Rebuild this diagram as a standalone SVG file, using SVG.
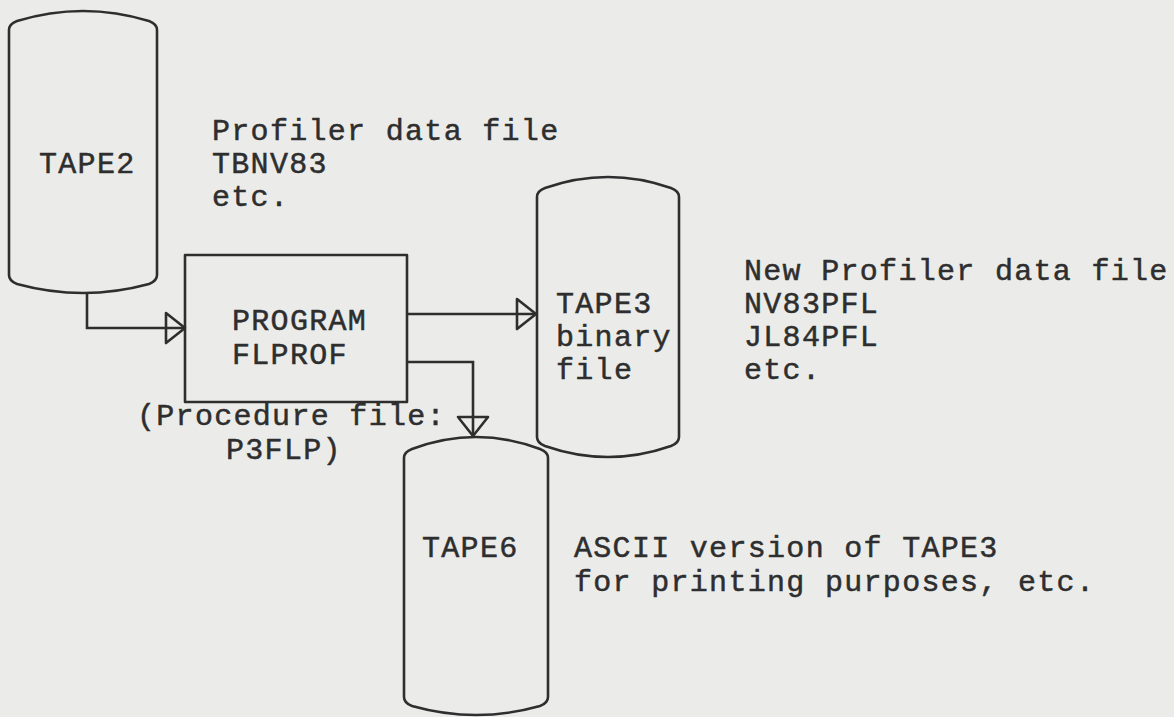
<svg xmlns="http://www.w3.org/2000/svg" width="1174" height="717" viewBox="0 0 1174 717">
  <style>
    .bg { fill: #ebecea; }
    .shape { fill: none; stroke: #2e2e2e; stroke-width: 2.6; stroke-linejoin: round; }
    .conn { fill: none; stroke: #2e2e2e; stroke-width: 2.6; }
    .t { font-family: "Liberation Mono", "Courier New", monospace; font-size: 30px; letter-spacing: 1.3px; fill: #2e2e2e; stroke: #2e2e2e; stroke-width: 0.5; }
  </style>
  <defs>
    <marker id="arrow" markerUnits="userSpaceOnUse" viewBox="-3 -18 25 36" markerWidth="25" markerHeight="36" refX="19" refY="0" orient="auto">
      <path d="M0,-15 L19,0 L0,15 Z" fill="none" stroke="#2e2e2e" stroke-width="2.6" stroke-linejoin="round"/>
    </marker>
  </defs>
  <rect class="bg" x="0" y="0" width="1174" height="717"/>

  <g id="tape2">
    <path class="shape" d="M9,275 L9,30 Q9,24 17,21 Q83,1 149,21 Q157,24 157,30 L157,275 Q157,281 149,284 Q83,302 17,284 Q9,281 9,275 Z"/>
    <text class="t" x="39" y="173">TAPE2</text>
  </g>
  <g id="tape2-label">
    <text class="t" x="212" y="140">Profiler data file</text>
    <text class="t" x="212" y="173">TBNV83</text>
    <text class="t" x="212" y="206">etc.</text>
  </g>

  <g id="program">
    <rect class="shape" x="185" y="255" width="222" height="147"/>
    <text class="t" x="232" y="330">PROGRAM</text>
    <text class="t" x="232" y="364">FLPROF</text>
    <text class="t" x="137" y="425">(Procedure file:</text>
    <text class="t" x="226" y="459">P3FLP)</text>
  </g>

  <g id="tape3">
    <path class="shape" d="M537,437 L537,197 Q537,191 545,188 Q608,166 671,188 Q679,191 679,197 L679,437 Q679,443 671,446 Q608,468 545,446 Q537,443 537,437 Z"/>
    <text class="t" x="556" y="313">TAPE3</text>
    <text class="t" x="556" y="346">binary</text>
    <text class="t" x="556" y="379">file</text>
  </g>
  <g id="tape3-label">
    <text class="t" x="744" y="280">New Profiler data file</text>
    <text class="t" x="744" y="313">NV83PFL</text>
    <text class="t" x="744" y="346">JL84PFL</text>
    <text class="t" x="744" y="379">etc.</text>
  </g>

  <g id="tape6">
    <path class="shape" d="M404,697 L404,458 Q404,452 412,449 Q476,425 540,449 Q548,452 548,458 L548,697 Q548,703 540,706 Q476,724 412,706 Q404,703 404,697 Z"/>
    <text class="t" x="422" y="557">TAPE6</text>
  </g>
  <g id="tape6-label">
    <text class="t" x="574" y="557">ASCII version of TAPE3</text>
    <text class="t" x="574" y="591">for printing purposes, etc.</text>
  </g>

  <g id="connectors">
    <path class="conn" d="M87,293 L87,328 L185,328" marker-end="url(#arrow)"/>
    <path class="conn" d="M407,314 L536,314" marker-end="url(#arrow)"/>
    <path class="conn" d="M407,362 L473,362 L473,436" marker-end="url(#arrow)"/>
  </g>
</svg>
